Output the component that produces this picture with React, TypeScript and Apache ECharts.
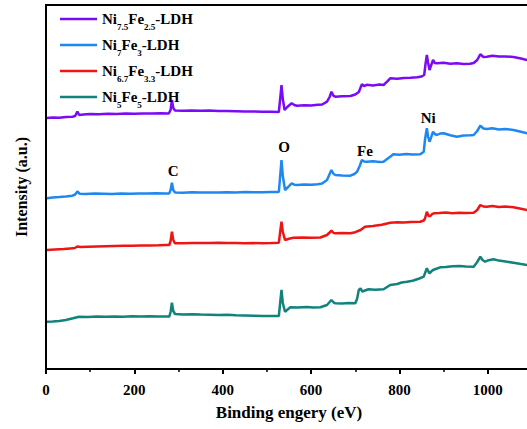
import React, { useEffect, useRef } from "react";
import * as echarts from "echarts";

const FONT = "'Liberation Serif', 'Times New Roman', serif";

const seriesNames = ["Ni7.5Fe2.5-LDH", "Ni7Fe3-LDH", "Ni6.7Fe3.3-LDH", "Ni5Fe5-LDH"];
const legendParts: Record<string, [string, string]> = {
  "Ni7.5Fe2.5-LDH": ["7.5", "2.5"],
  "Ni7Fe3-LDH": ["7", "3"],
  "Ni6.7Fe3.3-LDH": ["6.7", "3.3"],
  "Ni5Fe5-LDH": ["5", "5"],
};
const colors = ["#7B0AF5", "#1E88F0", "#EE1515", "#12827D"];

const xTicks = [0, 200, 400, 600, 800, 1000];

const purple: [number, number][] = [
  [2, 251], [15, 251.5], [30, 251.3], [45, 252], [60, 252.3], [66, 253], [71, 257.5], [75, 254], [85, 254.5], [100, 255],
  [120, 254.7], [140, 255.2], [160, 255], [180, 255.4], [200, 255.3], [220, 255.6], [240, 255.4], [260, 255.8], [278, 255.6],
  [282, 259], [285, 269], [288, 261], [292, 258.5], [310, 258.2], [330, 258.6], [350, 258.3], [370, 258.5], [390, 258.1],
  [410, 258], [430, 257.8], [450, 257.6], [470, 257.5], [490, 257.3], [510, 257.2], [527, 257], [530, 270], [533, 284],
  [536, 270], [540, 259], [546, 262], [556, 265.7], [562, 264], [568, 263.3], [585, 263.8], [600, 263.5], [615, 264.2],
  [625, 264.5], [636, 267.3], [642, 272], [646, 277.3], [651, 273], [655, 272.3], [670, 272.8], [689, 273], [700, 274.5],
  [708, 277], [715, 284.7], [720, 283], [726, 284.2], [740, 283.5], [755, 284.5], [764, 284], [772, 287.3], [779, 290.7],
  [795, 290.2], [810, 291], [825, 291.3], [840, 291.8], [850, 292.5], [856, 294], [859, 305], [862, 314], [865, 306],
  [868, 299], [872, 304], [876, 309], [880, 306], [885, 305.7], [900, 306.3], [915, 305.2], [930, 305.8], [945, 305],
  [960, 305.3], [968, 306], [976, 309], [983, 314.7], [990, 312], [998, 312.3], [1010, 313.2], [1025, 312.4], [1040, 312.6],
  [1058, 312], [1075, 310.5], [1089, 309], [1100, 308],
];

const blue: [number, number][] = [
  [2, 170.7], [15, 171.5], [30, 172], [45, 172.6], [60, 173.3], [66, 174.5], [71, 177.5], [76, 175.3], [90, 175], [110, 175.4],
  [130, 175.2], [150, 175], [170, 175.5], [190, 175.3], [210, 175.6], [230, 175.4], [250, 175.8], [268, 175.5], [279, 175.6],
  [282, 179], [285, 186.3], [288, 179], [292, 176.5], [310, 176.3], [330, 176.7], [350, 176.4], [370, 176.6], [390, 176.5],
  [410, 176.8], [430, 176.6], [450, 176.9], [470, 176.7], [490, 176.8], [510, 177], [527, 177], [530, 193], [533, 209],
  [536, 193], [541, 179], [548, 182], [556, 185.7], [562, 184.3], [568, 184], [585, 184.5], [600, 184.2], [615, 184.8],
  [625, 185.5], [636, 189], [642, 195], [646, 199], [651, 195], [655, 194], [670, 193.5], [689, 193.3], [698, 195],
  [704, 197.3], [710, 203], [715, 209], [720, 207.5], [726, 207.3], [740, 207.8], [755, 207], [764, 207.3], [772, 210],
  [779, 212.3], [786, 214.7], [800, 214.3], [815, 215], [830, 214.5], [847, 214.7], [855, 217.3], [858, 230], [862, 240.7],
  [865, 232], [868, 227.3], [872, 232], [876, 237.3], [880, 235], [885, 234], [892, 235.5], [900, 235.7], [915, 233.8],
  [930, 232.3], [945, 233.5], [960, 233.8], [968, 234], [976, 238], [983, 243.3], [990, 240.5], [998, 240], [1010, 240.8],
  [1025, 239.6], [1040, 240.1], [1058, 239], [1075, 237.3], [1089, 235.7], [1100, 235],
];

const red: [number, number][] = [
  [2, 119], [20, 119.5], [40, 120], [55, 120.6], [65, 121], [71, 122.5], [78, 122], [95, 122.3], [115, 122.6], [135, 122.8],
  [155, 123], [175, 123.2], [195, 123.3], [215, 123.5], [235, 123.6], [255, 123.8], [270, 124], [279, 124], [282, 128],
  [285, 137.3], [288, 129], [292, 125.7], [310, 125.8], [330, 126.1], [350, 125.9], [370, 126], [390, 126.2], [410, 125.9],
  [430, 126], [450, 125.8], [470, 125.9], [490, 125.7], [510, 126], [527, 126.3], [530, 137], [533, 147.3], [536, 137],
  [541, 129], [550, 130.3], [560, 131.3], [580, 131.6], [600, 131.2], [621, 131.5], [636, 134], [642, 136.5], [646, 138.3],
  [651, 136], [655, 135.7], [670, 135.9], [689, 135.7], [700, 136.8], [712, 139], [722, 142.3], [740, 143], [760, 144.3],
  [779, 146.3], [795, 146.8], [810, 146.5], [825, 147], [847, 147.3], [855, 148.5], [858, 150.7], [862, 157.3], [866, 153],
  [870, 153], [874, 155], [878, 155.7], [890, 155.9], [905, 156.5], [920, 155.8], [935, 156.3], [950, 156], [968, 156.3],
  [976, 159], [983, 164], [990, 162.5], [998, 162.3], [1010, 163], [1025, 162], [1040, 162.4], [1058, 161.7], [1075, 160.3],
  [1089, 159], [1100, 158.5],
];

const teal: [number, number][] = [
  [2, 47.3], [15, 47.6], [30, 48], [45, 49], [61, 50.7], [75, 52.3], [95, 52], [115, 52.5], [135, 52.3], [155, 52.6],
  [175, 52.3], [195, 52.8], [215, 52.5], [235, 52.7], [255, 52.4], [270, 52.5], [279, 52.4], [282, 57], [285, 66.3],
  [288, 58], [292, 55], [310, 54.6], [330, 54.8], [350, 54.4], [370, 54.3], [390, 54], [410, 54.2], [430, 53.7], [450, 53.5],
  [470, 53.3], [490, 53.1], [510, 53], [527, 53], [530, 66], [533, 79], [536, 66], [541, 57.3], [547, 59.5], [553, 61.7],
  [570, 61.5], [590, 61.9], [605, 61.6], [621, 61.7], [636, 64], [642, 67], [646, 69], [651, 66.5], [655, 65.7], [670, 65.5],
  [685, 65.9], [700, 65.7], [704, 70], [708, 79], [712, 80.7], [716, 77.3], [722, 78.5], [730, 79.7], [745, 79.2], [764, 79.7],
  [772, 82], [779, 84], [795, 85], [805, 86.5], [817, 87.3], [830, 88.3], [845, 90.5], [855, 92.3], [858, 96], [862, 100.7],
  [866, 97], [868, 95.7], [872, 97.5], [876, 99], [885, 100.5], [892, 101.7], [905, 102], [920, 102.8], [937, 103],
  [950, 102.4], [968, 102.3], [976, 107], [983, 112.3], [988, 109], [994, 107.3], [1002, 108.8], [1013, 109.7], [1025, 108.4],
  [1040, 107.5], [1058, 106.3], [1075, 105], [1089, 104], [1100, 103.5],
];

const peakLabels = ["C", "O", "Fe", "Ni"];
const peakCoords: [number, number][] = [[288, 198], [539, 222], [722, 218], [865, 251]];

const allData = [purple, blue, red, teal];

export default function App() {
  const ref = useRef<HTMLDivElement>(null);
  useEffect(() => {
    if (!ref.current) return;
    document.body.style.margin = "0";
    const chart = echarts.init(ref.current, null, { renderer: "svg" });
    const bold = { fontFamily: FONT, fontWeight: "bold" as const, color: "#000" };
    chart.setOption({
      animation: false,
      backgroundColor: "#fff",
      grid: {
        left: 46,
        top: 5,
        right: -5,
        bottom: 60,
        show: true,
        borderColor: "#000",
        borderWidth: 2,
        containLabel: false,
        outerBoundsMode: "none",
      },
      legend: {
        orient: "vertical",
        left: 55,
        top: 6,
        icon: "rect",
        itemWidth: 37,
        itemHeight: 2.5,
        itemGap: 6,
        data: seriesNames,
        formatter: (name: string) => {
          const p = legendParts[name];
          return `{n|Ni}{s|${p[0]}}{n|Fe}{s|${p[1]}}{n|-LDH}`;
        },
        textStyle: {
          ...bold,
          rich: {
            n: { ...bold, fontSize: 15, lineHeight: 16, verticalAlign: "middle" },
            s: { ...bold, fontSize: 9, lineHeight: 10, padding: [11, 0, 0, 0], verticalAlign: "top" },
          },
        },
      },
      xAxis: {
        type: "value",
        min: 0,
        max: 1100,
        interval: 200,
        axisLine: { lineStyle: { color: "#000", width: 2 } },
        axisTick: { show: true, length: 5, lineStyle: { color: "#000", width: 2 } },
        minorTick: { show: true, splitNumber: 2, length: 3, lineStyle: { color: "#000", width: 1.5 } },
        splitLine: { show: false },
        axisLabel: {
          ...bold,
          fontSize: 15,
          margin: 13,
          formatter: (v: number) => (xTicks.includes(v) ? String(v) : ""),
        },
        name: "Binding engery (eV)",
        nameLocation: "middle",
        nameGap: 35,
        nameTextStyle: { ...bold, fontSize: 17 },
      },
      yAxis: {
        type: "value",
        min: 0,
        max: 364,
        axisLine: { show: true, lineStyle: { color: "#000", width: 2 } },
        axisTick: { show: false },
        axisLabel: { show: false },
        splitLine: { show: false },
        name: "Intensity (a.u.)",
        nameLocation: "middle",
        nameGap: 17,
        nameTextStyle: { ...bold, fontSize: 16 },
      },
      series: seriesNames.map((name, i) => ({
        name,
        type: "line",
        data: allData[i],
        symbol: "none",
        color: colors[i],
        lineStyle: { width: 2.5, color: colors[i] },
        z: 2,
        markPoint:
          i === 1
            ? {
                symbol: "circle",
                symbolSize: 0,
                label: { show: true, ...bold, fontSize: 15, formatter: (p: any) => p.name },
                data: peakLabels.map((l, k) => ({ name: l, coord: peakCoords[k] })),
              }
            : undefined,
      })),
    });
    return () => chart.dispose();
  }, []);
  return <div ref={ref} style={{ width: 527, height: 429 }} />;
}
